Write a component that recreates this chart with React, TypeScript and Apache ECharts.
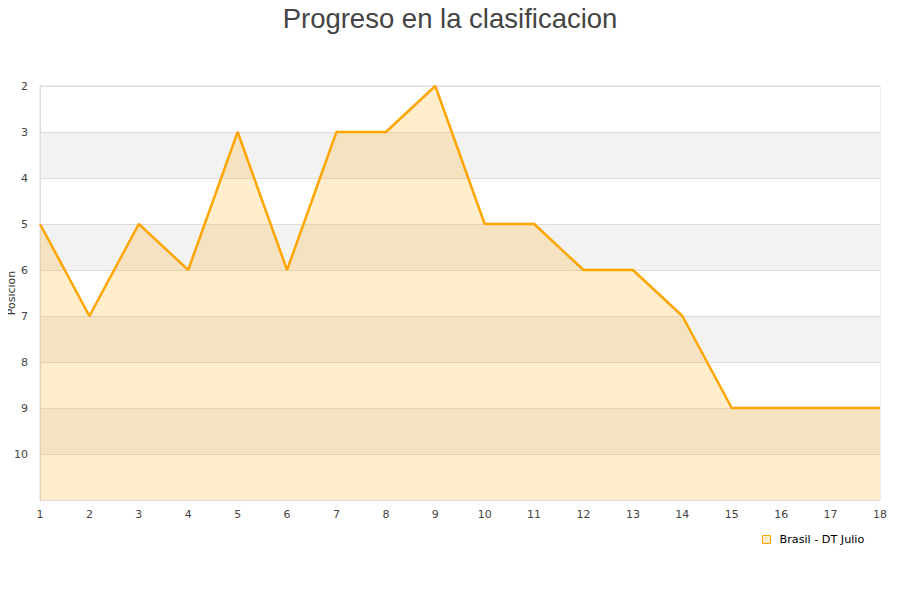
import React, { useEffect, useRef } from "react";
import * as echarts from "echarts";

const titleText = "Progreso en la clasificacion";
const seriesName = "Brasil - DT Julio";
const jornadas = [1, 2, 3, 4, 5, 6, 7, 8, 9, 10, 11, 12, 13, 14, 15, 16, 17, 18];
const posiciones = [5, 7, 5, 6, 3, 6, 3, 3, 2, 5, 5, 6, 6, 7, 9, 9, 9, 9];
const yAxisName = "Posicion";

export default function App() {
  const ref = useRef<HTMLDivElement>(null);
  useEffect(() => {
    if (!ref.current) return;
    const chart = echarts.init(ref.current, undefined, { renderer: "svg" });
    chart.setOption({
      animation: false,
      backgroundColor: "#ffffff",
      title: {
        text: titleText,
        left: "center",
        top: -1,
        textStyle: {
          fontFamily: "Liberation Sans, Arial, sans-serif",
          fontSize: 27.5,
          fontWeight: "normal",
          color: "#444444",
        },
      },
      graphic: [
        {
          type: "text",
          x: 11,
          y: 293,
          rotation: Math.PI / 2,
          style: {
            text: yAxisName,
            align: "center",
            verticalAlign: "middle",
            fontFamily: "DejaVu Sans, sans-serif",
            fontSize: 11,
            fill: "#333333",
          },
        },
      ],
      grid: {
        left: 40,
        right: 20,
        top: 86,
        bottom: 100,
        show: true,
        borderColor: "#dddddd",
        borderWidth: 1,
        containLabel: false,
        outerBoundsMode: "none",
      },
      legend: {
        data: [seriesName],
        left: 757,
        top: 529,
        icon: "rect",
        itemWidth: 8,
        itemHeight: 8,
        itemGap: 6,
        textStyle: {
          fontFamily: "DejaVu Sans, sans-serif",
          fontSize: 11.2,
          color: "#000000",
          padding: [0, 0, 0, 4],
        },
        itemStyle: { color: "rgba(255,165,0,0.2)", borderColor: "#ffa500", borderWidth: 1 },
      },
      xAxis: {
        type: "value",
        min: 1,
        max: 18,
        interval: 1,
        axisLine: { show: true, lineStyle: { color: "#dddddd" } },
        axisTick: { show: false },
        splitLine: { show: false },
        axisLabel: {
          fontFamily: "DejaVu Sans, sans-serif",
          fontSize: 11,
          color: "#444444",
          margin: 9,
        },
      },
      yAxis: {
        type: "value",
        inverse: true,
        min: 2,
        max: 11,
        interval: 1,
        axisLine: { show: true, lineStyle: { color: "#dddddd" } },
        axisTick: { show: false },
        splitLine: { show: true, lineStyle: { color: "#dddddd" } },
        splitArea: { show: true, areaStyle: { color: ["#ffffff", "#f2f2f2"], opacity: 1 } },
        axisLabel: {
          fontFamily: "DejaVu Sans, sans-serif",
          fontSize: 11,
          color: "#444444",
          margin: 12,
          formatter: (v: number) => (v === 11 ? "" : String(v)),
        },
      },
      series: [
        {
          name: seriesName,
          type: "line",
          data: jornadas.map((j, i) => [j, posiciones[i]]),
          showSymbol: false,
          symbol: "none",
          lineStyle: { color: "#ffa500", width: 2.5 },
          itemStyle: { color: "#ffa500" },
          areaStyle: { color: "rgba(255,165,0,0.2)", opacity: 1, origin: "end" },
        },
      ],
    });
    return () => chart.dispose();
  }, []);
  return <div ref={ref} style={{ width: 900, height: 600, margin: -8 }} />;
}
